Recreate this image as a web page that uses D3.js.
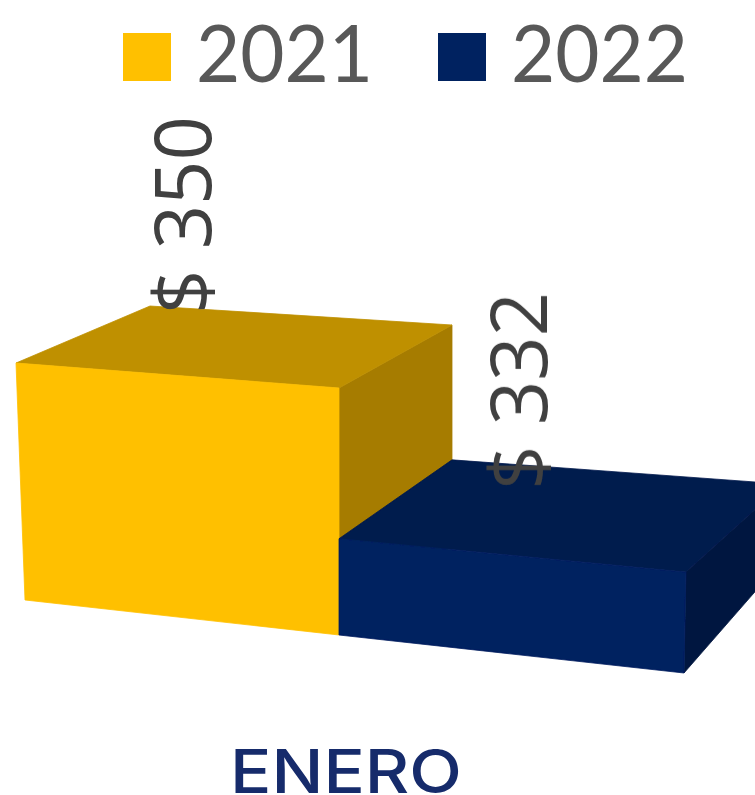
<!DOCTYPE html>
<html lang="en">

<head>
  <meta charset="UTF-8">
  <title>Enero</title>
  <script src="https://d3js.org/d3.v7.min.js"></script>
  <style>
    html, body { margin: 0; padding: 0; background: #fff; }
    svg { display: block; }
  </style>
</head>

<body>
  <script>
    const categories = ["ENERO"];
    const seriesNames = ["2021", "2022"];
    const values2021 = [350];
    const values2022 = [332];
    const seriesColors = [
      { front: "#FFC000", top: "#BF9000", side: "#A67C00" },
      { front: "#002060", top: "#001A4D", side: "#00153F" }
    ];

    const width = 755, height = 795;

    const svg = d3.select("body").append("svg")
      .attr("width", width)
      .attr("height", height);

    svg.append("defs").append("filter").attr("id", "soft")
      .append("feGaussianBlur").attr("stdDeviation", 0.7);

    // the value axis is cut off low, share of the bar height
    const level = d3.scaleLinear().domain([320.5, 350]).range([0, 1]);

    // position along the category, 0 = left of first bar, 2 = right of second bar
    const slot = d3.scaleBand().domain(seriesNames).range([0, 2]);

    // fake 3d: everything is pinned at left / middle / right of the bars
    const baseX = d3.scaleLinear().domain([0, 1, 2]).range([25, 339, 684]);
    const baseY = d3.scaleLinear().domain([0, 1, 2]).range([600, 635, 673]);
    const tall = d3.scaleLinear().domain([0, 1, 2]).range([237, 247, 259]);
    const lean = d3.scaleLinear().domain([0, 1, 2]).range([-9, 0, 5]);
    const depthX = d3.scaleLinear().domain([0, 1, 2]).range([134, 113, 97]);
    const depthY0 = d3.scaleLinear().domain([0, 1, 2]).range([-83, -89, -111]);
    const depthY1 = d3.scaleLinear().domain([0, 1, 2]).range([26, 26, 59]);

    const corner = (pos, h, back) => {
      const x = baseX(pos) + lean(pos) * h + (back ? depthX(pos) : 0);
      const y = baseY(pos) - tall(pos) * h + (back ? depthY0(pos) + depthY1(pos) * h : 0);
      return [x, y];
    };

    const line = d3.line();
    const face = (pts) => line(pts) + "Z";

    const bars = seriesNames.map((name, i) => ({
      name,
      value: (i === 0 ? values2021 : values2022)[0],
      colors: seriesColors[i],
      left: slot(name),
      right: slot(name) + slot.bandwidth()
    }));

    const chart = svg.append("g").attr("filter", "url(#soft)");

    const drawFace = (g, pts, color) => {
      g.append("path")
        .attr("d", face(pts))
        .attr("fill", color)
        .attr("stroke", color)
        .attr("stroke-width", 0.8);
    };

    bars.forEach(d => {
      const h = level(d.value);
      const g = chart.append("g").attr("class", "bar");

      drawFace(g, [corner(d.right, h), corner(d.right, h, true), corner(d.right, 0, true), corner(d.right, 0)], d.colors.side);
      drawFace(g, [corner(d.left, h), corner(d.left, h, true), corner(d.right, h, true), corner(d.right, h)], d.colors.top);
      drawFace(g, [corner(d.left, 0), corner(d.left, h), corner(d.right, h), corner(d.right, 0)], d.colors.front);
    });

    // value labels, rotated, sitting on the back edge of each bar
    const labelOffset = { "2021": [61, 8], "2022": [95, 30] };
    bars.forEach(d => {
      const p = corner(d.left, level(d.value), true);
      svg.append("text")
        .attr("transform", `translate(${p[0] + labelOffset[d.name][0]},${p[1] + labelOffset[d.name][1]}) rotate(-90)`)
        .attr("font-family", "'Open Sans'")
        .attr("font-size", 78)
        .attr("fill", "#404040")
        .attr("textLength", 198)
        .attr("lengthAdjust", "spacingAndGlyphs")
        .attr("filter", "url(#soft)")
        .text("$ " + d.value);
    });

    // legend
    const legendX = d3.scalePoint().domain(seriesNames).range([123, 438]);
    const legend = svg.append("g").attr("filter", "url(#soft)");
    seriesNames.forEach((name, i) => {
      legend.append("rect")
        .attr("x", legendX(name))
        .attr("y", 33)
        .attr("width", 48)
        .attr("height", 48)
        .attr("fill", seriesColors[i].front);
      legend.append("text")
        .attr("x", legendX(name) + 73)
        .attr("y", 82)
        .attr("font-family", "Lato")
        .attr("font-size", 80)
        .attr("fill", "#595959")
        .attr("textLength", 177)
        .attr("lengthAdjust", "spacingAndGlyphs")
        .text(name);
    });

    // category
    svg.append("text")
      .attr("x", 230)
      .attr("y", 793)
      .attr("font-family", "Inter")
      .attr("font-weight", 500)
      .attr("font-size", 60)
      .attr("fill", "#162B6B")
      .attr("textLength", 232)
      .attr("lengthAdjust", "spacingAndGlyphs")
      .text(categories[0]);
  </script>
</body>

</html>
